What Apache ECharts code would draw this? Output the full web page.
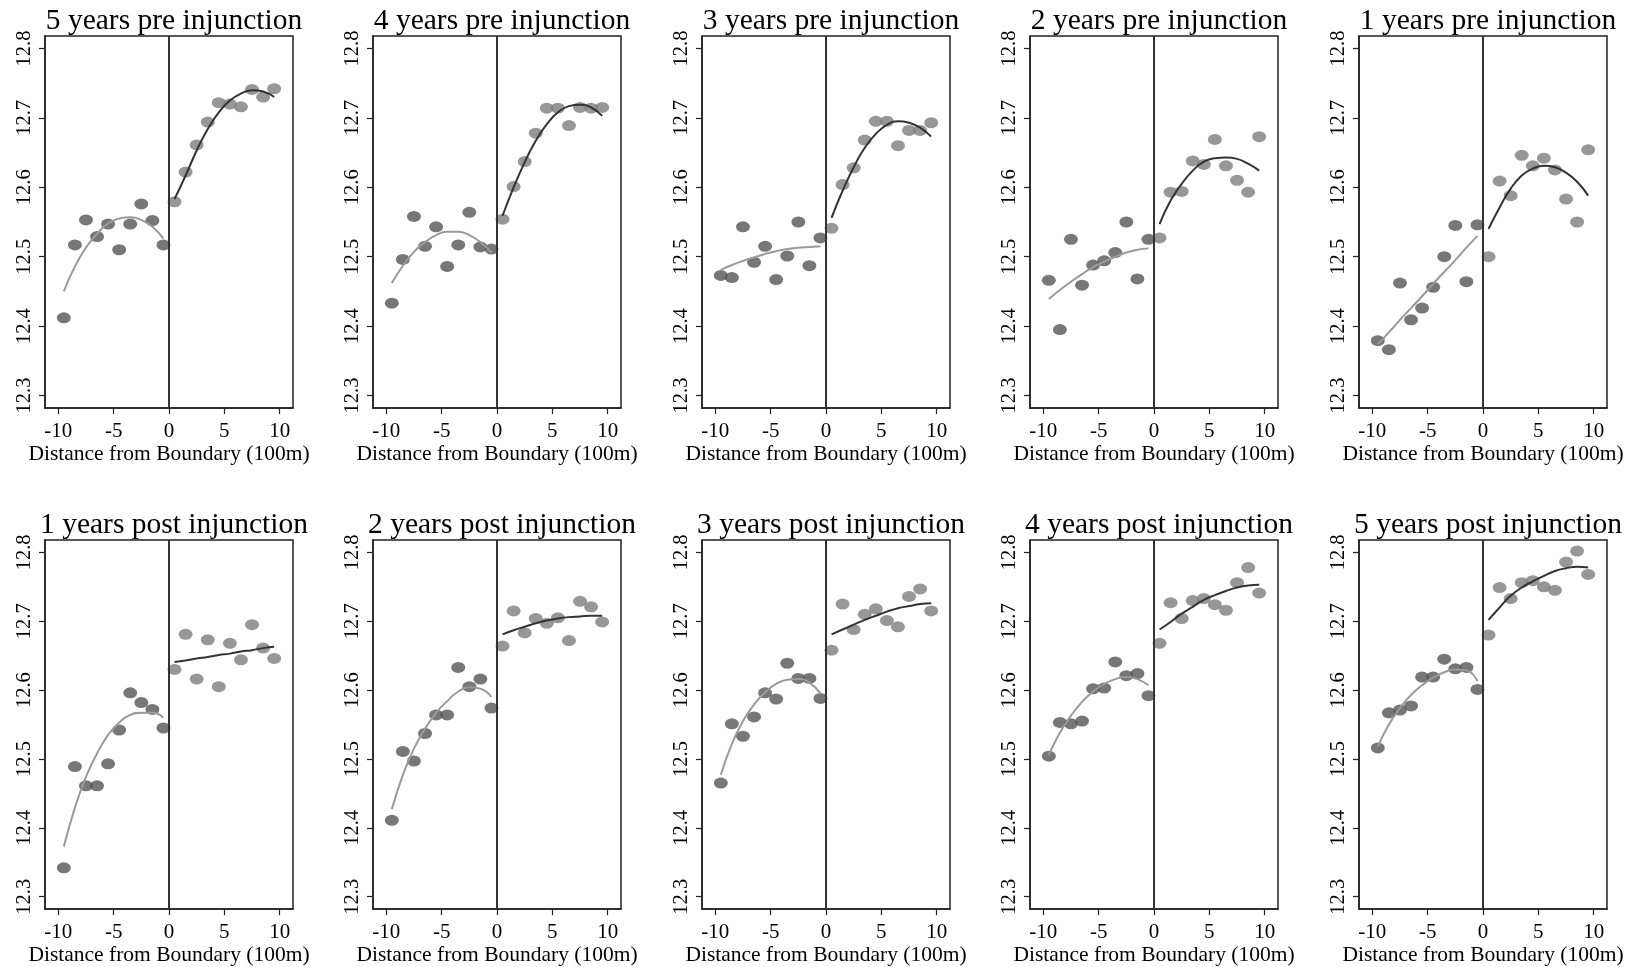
<!DOCTYPE html>
<html lang="en">
<head>
    <meta charset="utf-8">
    <title>Distance from Boundary</title>
    <script src="https://cdn.jsdelivr.net/npm/echarts@6/dist/echarts.min.js"></script>
    <style>
        html, body { margin: 0; padding: 0; background: #fff; }
        #chart { width: 1640px; height: 967px; }
    </style>
</head>
<body>
<div id="chart"></div>
<script type="text/javascript">
    var titles = ['5 years pre injunction', '4 years pre injunction', '3 years pre injunction',
        '2 years pre injunction', '1 years pre injunction', '1 years post injunction',
        '2 years post injunction', '3 years post injunction', '4 years post injunction',
        '5 years post injunction'];
    var binsLeft = [-9.5, -8.5, -7.5, -6.5, -5.5, -4.5, -3.5, -2.5, -1.5, -0.5];
    var binsRight = [0.5, 1.5, 2.5, 3.5, 4.5, 5.5, 6.5, 7.5, 8.5, 9.5];
    var xTicks = [-10, -5, 0, 5, 10];
    var yTicks = [12.3, 12.4, 12.5, 12.6, 12.7, 12.8];

    // binned means, left of boundary
    var leftPoints = [
        [12.412, 12.517, 12.553, 12.529, 12.547, 12.510, 12.547, 12.576, 12.552, 12.517],
        [12.433, 12.496, 12.558, 12.515, 12.543, 12.486, 12.517, 12.564, 12.514, 12.511],
        [12.473, 12.470, 12.543, 12.492, 12.515, 12.467, 12.501, 12.550, 12.487, 12.527],
        [12.466, 12.395, 12.525, 12.459, 12.488, 12.494, 12.506, 12.550, 12.468, 12.525],
        [12.379, 12.366, 12.462, 12.409, 12.426, 12.456, 12.500, 12.545, 12.464, 12.546],
        [12.342, 12.489, 12.461, 12.461, 12.493, 12.542, 12.596, 12.582, 12.572, 12.545],
        [12.411, 12.511, 12.497, 12.537, 12.564, 12.564, 12.633, 12.605, 12.616, 12.574],
        [12.465, 12.551, 12.533, 12.561, 12.596, 12.587, 12.639, 12.617, 12.617, 12.588],
        [12.504, 12.553, 12.551, 12.555, 12.602, 12.603, 12.641, 12.621, 12.624, 12.592],
        [12.516, 12.567, 12.571, 12.577, 12.619, 12.619, 12.645, 12.631, 12.633, 12.601]
    ];
    // binned means, right of boundary
    var rightPoints = [
        [12.579, 12.622, 12.661, 12.694, 12.722, 12.720, 12.716, 12.741, 12.730, 12.742],
        [12.554, 12.601, 12.637, 12.678, 12.714, 12.714, 12.689, 12.715, 12.714, 12.715],
        [12.541, 12.604, 12.628, 12.668, 12.695, 12.695, 12.660, 12.682, 12.682, 12.693],
        [12.527, 12.593, 12.594, 12.638, 12.633, 12.669, 12.631, 12.610, 12.593, 12.673],
        [12.500, 12.609, 12.588, 12.646, 12.631, 12.642, 12.625, 12.583, 12.550, 12.654],
        [12.630, 12.681, 12.616, 12.673, 12.605, 12.668, 12.644, 12.695, 12.661, 12.646],
        [12.664, 12.715, 12.683, 12.704, 12.697, 12.705, 12.672, 12.729, 12.721, 12.699],
        [12.658, 12.725, 12.688, 12.710, 12.718, 12.701, 12.692, 12.736, 12.747, 12.715],
        [12.668, 12.727, 12.704, 12.730, 12.733, 12.724, 12.716, 12.756, 12.778, 12.741],
        [12.680, 12.749, 12.733, 12.756, 12.759, 12.750, 12.745, 12.786, 12.802, 12.768]
    ];
    // fitted curves read at the bin centres
    var leftFit = [
        [12.450, 12.486, 12.513, 12.533, 12.548, 12.555, 12.557, 12.553, 12.543, 12.526],
        [12.462, 12.487, 12.507, 12.521, 12.531, 12.536, 12.536, 12.531, 12.521, 12.506],
        [12.481, 12.488, 12.494, 12.499, 12.504, 12.508, 12.511, 12.513, 12.514, 12.515],
        [12.439, 12.452, 12.464, 12.475, 12.485, 12.493, 12.500, 12.506, 12.510, 12.512],
        [12.374, 12.391, 12.409, 12.426, 12.443, 12.461, 12.478, 12.495, 12.513, 12.530],
        [12.373, 12.429, 12.474, 12.508, 12.535, 12.553, 12.564, 12.567, 12.567, 12.560],
        [12.427, 12.477, 12.515, 12.544, 12.567, 12.584, 12.598, 12.604, 12.602, 12.590],
        [12.477, 12.522, 12.555, 12.579, 12.597, 12.609, 12.615, 12.616, 12.611, 12.595],
        [12.506, 12.538, 12.563, 12.583, 12.598, 12.609, 12.616, 12.619, 12.616, 12.607],
        [12.518, 12.550, 12.574, 12.593, 12.607, 12.618, 12.626, 12.630, 12.629, 12.613]
    ];
    var rightFit = [
        [12.583, 12.617, 12.653, 12.684, 12.708, 12.725, 12.735, 12.740, 12.738, 12.730],
        [12.559, 12.600, 12.636, 12.667, 12.691, 12.708, 12.717, 12.719, 12.715, 12.703],
        [12.556, 12.595, 12.629, 12.657, 12.677, 12.690, 12.695, 12.693, 12.686, 12.673],
        [12.547, 12.581, 12.605, 12.624, 12.637, 12.642, 12.643, 12.641, 12.634, 12.624],
        [12.540, 12.571, 12.598, 12.617, 12.627, 12.631, 12.629, 12.621, 12.608, 12.588],
        [12.641, 12.643, 12.646, 12.648, 12.651, 12.653, 12.656, 12.658, 12.661, 12.663],
        [12.681, 12.687, 12.692, 12.697, 12.701, 12.704, 12.706, 12.707, 12.708, 12.708],
        [12.681, 12.688, 12.695, 12.702, 12.708, 12.714, 12.719, 12.722, 12.725, 12.726],
        [12.688, 12.699, 12.711, 12.721, 12.731, 12.738, 12.744, 12.749, 12.752, 12.753],
        [12.702, 12.720, 12.737, 12.749, 12.758, 12.766, 12.773, 12.777, 12.779, 12.778]
    ];

    var FONT = 'Liberation Serif';
    var gridLefts = [45, 373, 702, 1030, 1359];
    var gridTops = [36, 540];
    var gridW = 248, gridH = 372;

    function pairs(xs, ys) {
        var out = [];
        for (var i = 0; i < xs.length; i++) {
            out.push([xs[i], ys[i]]);
        }
        return out;
    }

    function buildOption(useCustom) {
        var grids = [], xAxes = [], yAxes = [], series = [], titleList = [];
        for (var p = 0; p < 10; p++) {
            var left = gridLefts[p % 5];
            var top = gridTops[Math.floor(p / 5)];
            grids.push({
                left: left, top: top, width: gridW, height: gridH,
                show: true, borderColor: '#222', borderWidth: 1.5
            });
            titleList.push({
                text: titles[p],
                left: left + gridW / 2,
                top: top - 35,
                textAlign: 'center',
                textStyle: { fontFamily: FONT, fontWeight: 'normal', fontSize: 29.5, color: '#000' }
            });
            var xTick = { show: true, length: 6, lineStyle: { color: '#222', width: 1.2 } };
            var xLab = { margin: 13, fontFamily: FONT, fontSize: 21, color: '#000', showMinLabel: false, showMaxLabel: false };
            var yTick = { show: true, length: 6, lineStyle: { color: '#222', width: 1.2 } };
            var yLab = { rotate: 90, margin: 10, fontFamily: FONT, fontSize: 20.5, color: '#000', showMinLabel: false, showMaxLabel: false };
            if (useCustom) {
                xTick.customValues = xTicks; xLab.customValues = xTicks;
                yTick.customValues = yTicks; yLab.customValues = yTicks;
                xLab.showMinLabel = xLab.showMaxLabel = true;
                yLab.showMinLabel = yLab.showMaxLabel = true;
            }
            xAxes.push({
                gridIndex: p, type: 'value', min: -11.2, max: 11.2,
                name: 'Distance from Boundary (100m)',
                nameLocation: 'middle', nameGap: 34,
                nameTextStyle: { fontFamily: FONT, fontSize: 21.5, color: '#000' },
                axisLine: { show: true, onZero: false, lineStyle: { color: '#222', width: 1.5 } },
                axisTick: xTick, axisLabel: xLab,
                splitLine: { show: false }
            });
            yAxes.push({
                gridIndex: p, type: 'value', min: 12.282, max: 12.818,
                axisLine: { show: true, onZero: false, lineStyle: { color: '#222', width: 1.5 } },
                axisTick: yTick, axisLabel: yLab,
                splitLine: { show: false }
            });
            series.push({
                type: 'scatter', xAxisIndex: p, yAxisIndex: p,
                data: pairs(binsLeft, leftPoints[p]),
                symbol: 'circle', symbolSize: [14, 11],
                itemStyle: { color: '#555' }, z: 2
            });
            series.push({
                type: 'scatter', xAxisIndex: p, yAxisIndex: p,
                data: pairs(binsRight, rightPoints[p]),
                symbol: 'circle', symbolSize: [14, 11],
                itemStyle: { color: '#7d7d7d' }, z: 2,
                markLine: {
                    silent: true, symbol: 'none', label: { show: false },
                    lineStyle: { color: '#333', type: 'solid', width: 2 },
                    data: [{ xAxis: 0 }]
                }
            });
            series.push({
                type: 'line', xAxisIndex: p, yAxisIndex: p,
                data: pairs(binsLeft, leftFit[p]),
                smooth: true, showSymbol: false,
                lineStyle: { color: '#9a9a9a', width: 2 }, z: 3
            });
            series.push({
                type: 'line', xAxisIndex: p, yAxisIndex: p,
                data: pairs(binsRight, rightFit[p]),
                smooth: true, showSymbol: false,
                lineStyle: { color: '#333', width: 2 }, z: 3
            });
        }
        return {
            backgroundColor: '#fff',
            animation: false,
            title: titleList,
            grid: grids,
            xAxis: xAxes,
            yAxis: yAxes,
            series: series
        };
    }

    var el = document.getElementById('chart');
    var myChart = echarts.init(el);
    try {
        myChart.setOption(buildOption(true));
    } catch (e) {
        // fall back to automatic ticks if custom tick values are not accepted
        myChart.dispose();
        myChart = echarts.init(el);
        myChart.setOption(buildOption(false));
    }
</script>
</body>
</html>
